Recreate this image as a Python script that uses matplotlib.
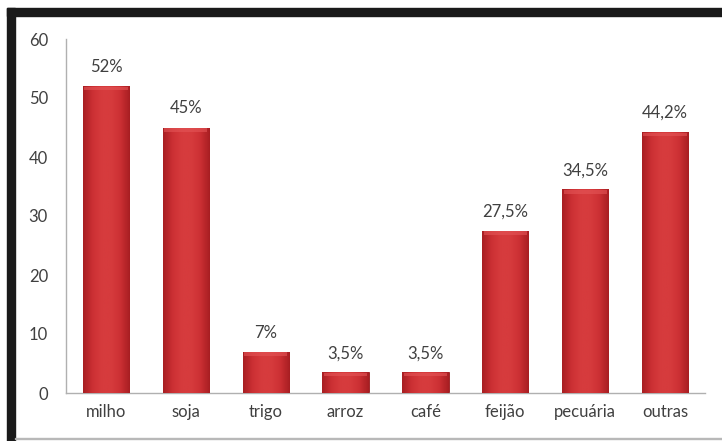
import matplotlib.pyplot as plt
import numpy as np
from matplotlib.colors import LinearSegmentedColormap
from matplotlib.patches import Rectangle

plt.rcParams['font.family'] = ['Lato', 'DejaVu Sans']

culturas = ['milho', 'soja', 'trigo', 'arroz', 'café', 'feijão', 'pecuária', 'outras']
valores = [52, 45, 7, 3.5, 3.5, 27.5, 34.5, 44.2]
rotulos = ['52%', '45%', '7%', '3,5%', '3,5%', '27,5%', '34,5%', '44,2%']

texto = '#404040'
fig = plt.figure(figsize=(7.22, 4.41), dpi=100)
fig.patch.set_facecolor('white')
ax = fig.add_axes([66 / 722, 1 - 393 / 441, 639 / 722, 354 / 441])

x = np.arange(len(culturas))
barras = ax.bar(x, valores, width=0.58, color='#c42a2e', zorder=2)

# degradê vermelho em cada barra (bordas escuras, centro claro)
grad = LinearSegmentedColormap.from_list('verm', ['#a81e22', '#cc3034', '#d63b3d', '#d63b3d', '#cc3034', '#a81e22'])
lin = np.linspace(0, 1, 64)[None, :]
for b in barras:
    x0, w, h = b.get_x(), b.get_width(), b.get_height()
    im = ax.imshow(lin, cmap=grad, aspect='auto', extent=[x0, x0 + w, 0, h], zorder=3)
    im.set_clip_path(b)
    # bisel claro no topo
    ax.add_patch(Rectangle((x0 + 0.02, h - 0.7), w - 0.04, 0.6, color='#e45557', alpha=0.6, lw=0, zorder=4))
    b.set_edgecolor('#951a1d')
    b.set_linewidth(0.6)

for xi, v, r in zip(x, valores, rotulos):
    ax.annotate(r, (xi, v), xytext=(0, 8), textcoords='offset points',
                ha='center', va='bottom', fontsize=12, color=texto)

ax.set_xlim(-0.5, len(culturas) - 0.5)
ax.set_ylim(0, 60)
ax.set_yticks(range(0, 61, 10))
ax.set_xticks(x)
ax.set_xticklabels(culturas)
ax.tick_params(length=0, labelsize=12, labelcolor=texto)
ax.tick_params(axis='y', pad=13)
ax.tick_params(axis='x', pad=8)
for s in ['top', 'right']:
    ax.spines[s].set_visible(False)
for s in ['left', 'bottom']:
    ax.spines[s].set_color('#b0b0b0')
    ax.spines[s].set_linewidth(1)

# moldura preta
W, H = 722, 441
fig.patches.append(Rectangle((7 / W, 1 - 16 / H), 1, 8 / H, transform=fig.transFigure, color='#1a1a1a', zorder=10))
fig.patches.append(Rectangle((7 / W, 0), 8 / W, 1 - 8 / H, transform=fig.transFigure, color='#1a1a1a', zorder=10))
fig.patches.append(Rectangle((15 / W, 2 / H), 1, 1.2 / H, transform=fig.transFigure, color='#b8b8b8', zorder=10))

fig.savefig('out.png', dpi=100)
